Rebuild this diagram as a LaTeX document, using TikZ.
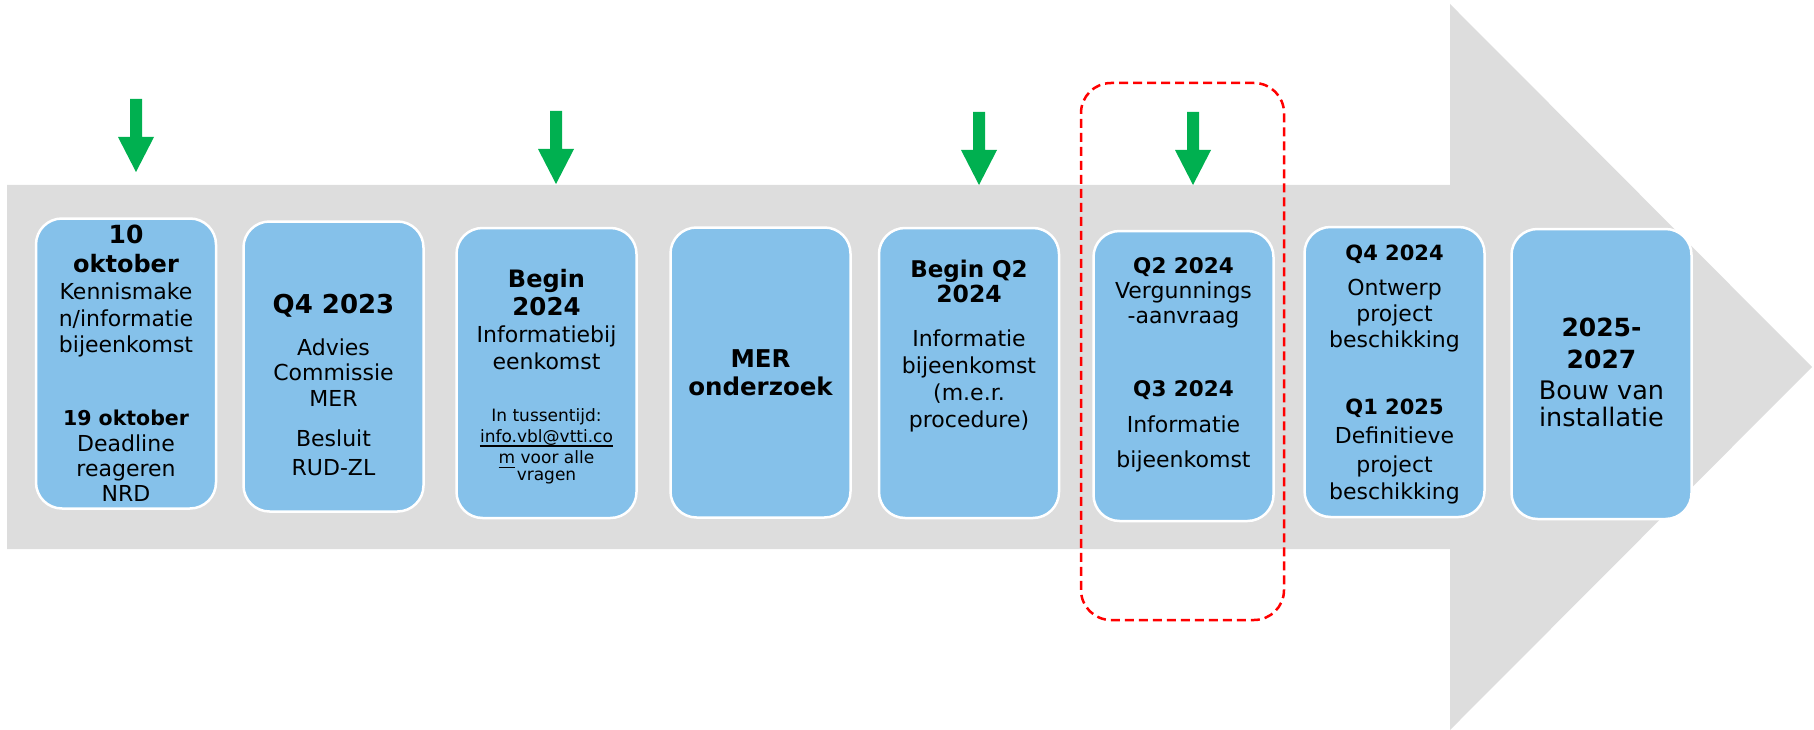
\documentclass[tikz,border=0pt]{standalone}
\usepackage{fontspec}
\setmainfont{DejaVu Sans}
\definecolor{bgray}{HTML}{DDDDDD}
\definecolor{bblue}{HTML}{85C1EA}
\definecolor{agreen}{HTML}{00B050}
\definecolor{hred}{HTML}{FF0000}
\begin{document}
\begin{tikzpicture}[x=1pt,y=-1pt,
  box/.style={draw=white, line width=2.5pt, fill=bblue, rounded corners=26pt,
    minimum width=180pt, minimum height=290pt, inner sep=0pt},
  rg/.style={font=\fontsize{#1}{#1}\selectfont, anchor=base, inner sep=0pt},
  bd/.style={font=\bfseries\fontsize{#1}{#1}\selectfont, anchor=base, inner sep=0pt},
  ul/.style={line width=1.8pt, black}]
\useasboundingbox (0,0) rectangle (1814,730);
% big grey arrow
\fill[bgray] (7,185) -- (1450,185) -- (1450,4) -- (1812,367) -- (1450,730) -- (1450,549) -- (7,549) -- cycle;
% green arrows
\foreach \x/\t/\b/\p in {136/99/137/172, 556/111/149/184, 979/112/150/185, 1193/112/150/185}
  \fill[agreen] ({\x-6},\t) -- ({\x+6},\t) -- ({\x+6},\b) -- ({\x+18},\b) -- (\x,\p) -- ({\x-18},\b) -- ({\x-6},\b) -- cycle;
% red dashed highlight
\node[draw=hred, line width=2.5pt, dash pattern=on 9pt off 5pt, rounded corners=30pt,
  minimum width=203pt, minimum height=537pt, inner sep=0pt] (hl) at (1182.5,351.5) {};
% boxes
\node[box] (b1) at (126,363.5) {};
\node[box] (b2) at (333.5,366.5) {};
\node[box] (b3) at (546.5,373) {};
\node[box] (b4) at (760.5,372.5) {};
\node[box] (b5) at (969,373) {};
\node[box] (b6) at (1183.5,376) {};
\node[box] (b7) at (1394.5,372) {};
\node[box] (b8) at (1601.5,374) {};
% box 1
\node[bd=25] (t1a) at (126,243) {10};
\node[bd=24] (t1b) at (126,272) {oktober};
\node[rg=22] (t1c) at (126,299.5) {Kennismake};
\node[rg=22] (t1d) at (126,326.5) {n/informatie};
\node[rg=22] (t1e) at (126,352.5) {bijeenkomst};
\node[bd=20.5] (t1f) at (126,425) {19 oktober};
\node[rg=22] (t1g) at (126,451.5) {Deadline};
\node[rg=22] (t1h) at (126,476) {reageren};
\node[rg=22] (t1i) at (126,501.5) {NRD};
% box 2
\node[bd=26] (t2a) at (333.5,313.5) {Q4 2023};
\node[rg=22] (t2b) at (333.5,355) {Advies};
\node[rg=22] (t2c) at (333.5,380) {Commissie};
\node[rg=22] (t2d) at (333.5,406) {MER};
\node[rg=22] (t2e) at (333.5,446.5) {Besluit};
\node[rg=22] (t2f) at (333.5,475) {RUD-ZL};
% box 3
\node[bd=24] (t3a) at (546.5,287.5) {Begin};
\node[bd=24.5] (t3b) at (546.5,315) {2024};
\node[rg=22] (t3c) at (546.5,342.5) {Informatiebij};
\node[rg=22] (t3d) at (546.5,369.5) {eenkomst};
\node[rg=17] (t3e) at (546.5,421) {In tussentijd:};
\node[rg=17] (t3f) at (546.5,442) {info.vbl@vtti.co};
\node[rg=17] (t3g) at (546.5,463.5) {m voor alle};
\node[rg=17] (t3h) at (546.5,480) {vragen};
\draw[ul] ([yshift=-4pt]t3f.base west) -- ([yshift=-4pt]t3f.base east);
\draw[ul] ([yshift=-4pt]t3g.base west) -- ++(16.5,0);
% box 4
\node[bd=24.5] (t4a) at (760.5,367) {MER};
\node[bd=24.5] (t4b) at (760.5,395) {onderzoek};
% box 5
\node[bd=23] (t5a) at (969,277.5) {Begin Q2};
\node[bd=23.5] (t5b) at (969,302.5) {2024};
\node[rg=22] (t5c) at (969,346.5) {Informatie};
\node[rg=22] (t5d) at (969,373) {bijeenkomst};
\node[rg=22] (t5e) at (969,400) {(m.e.r.};
\node[rg=22] (t5f) at (969,427) {procedure)};
% box 6
\node[bd=21.5] (t6a) at (1183.5,273) {Q2 2024};
\node[rg=22] (t6b) at (1183.5,298) {Vergunnings};
\node[rg=22] (t6c) at (1183.5,323.5) {-aanvraag};
\node[bd=21.5] (t6d) at (1183.5,396.5) {Q3 2024};
\node[rg=22] (t6e) at (1183.5,432.5) {Informatie};
\node[rg=22] (t6f) at (1183.5,467) {bijeenkomst};
% box 7
\node[bd=21] (t7a) at (1394.5,260) {Q4 2024};
\node[rg=22] (t7b) at (1394.5,295.5) {Ontwerp};
\node[rg=22] (t7c) at (1394.5,321) {project};
\node[rg=22] (t7d) at (1394.5,347) {beschikking};
\node[bd=21] (t7e) at (1394.5,414) {Q1 2025};
\node[rg=22] (t7f) at (1394.5,443.5) {Definitieve};
\node[rg=22] (t7g) at (1394.5,472.5) {project};
\node[rg=22] (t7h) at (1394.5,499) {beschikking};
% box 8
\node[bd=25] (t8a) at (1601.5,336) {2025-};
\node[bd=25] (t8b) at (1601.5,368) {2027};
\node[rg=25.5] (t8c) at (1601.5,399.5) {Bouw van};
\node[rg=25.5] (t8d) at (1601.5,426) {installatie};
\end{tikzpicture}
\end{document}
